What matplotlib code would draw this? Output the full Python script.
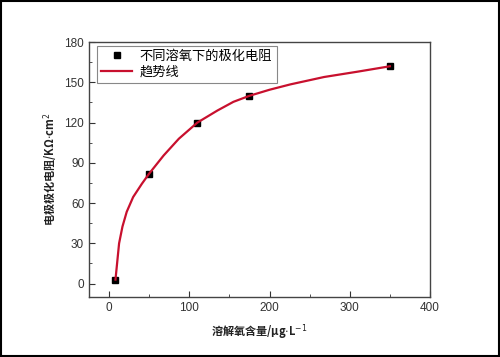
import matplotlib
matplotlib.use('Agg')
import matplotlib.pyplot as plt
from matplotlib.patches import Rectangle
from matplotlib.ticker import MultipleLocator

plt.rcParams['font.family'] = ['Liberation Sans', 'Noto Sans CJK SC', 'DejaVu Sans']

# measured points
oxygen = [8, 50, 110, 175, 350]
resistance = [3, 82, 120, 140, 162]

# trend line
trend_x = [8, 10, 12.5, 16.7, 22, 30, 41, 50, 68, 87, 110, 135, 155, 175,
           200, 226, 268, 310, 350]
trend_y = [3, 15, 30, 42.5, 53.5, 64.5, 74.5, 82, 95.5, 108, 120, 129, 135.5,
           140, 144.5, 148.5, 154, 158, 162]

x_ticks = [0, 100, 200, 300, 400]
y_ticks = [0, 30, 60, 90, 120, 150, 180]

fig = plt.figure(figsize=(5, 3.57), dpi=100)
ax = fig.add_axes([0.178, 0.168, 0.682, 0.714])

ax.plot(oxygen, resistance, 's', color='black', markersize=4.8,
        label='不同溶氧下的极化电阻', zorder=2)
ax.plot(trend_x, trend_y, '-', color='#c8102e', linewidth=1.6,
        label='趋势线', zorder=3)

ax.set_xlim(-25, 400)
ax.set_ylim(-10, 180)
ax.set_xticks(x_ticks)
ax.set_yticks(y_ticks)
ax.xaxis.set_minor_locator(MultipleLocator(50))
ax.yaxis.set_minor_locator(MultipleLocator(15))
ax.tick_params(which='both', direction='in', top=False, right=False,
               labelsize=8.5, colors='#333333')
ax.tick_params(which='major', length=4)
ax.tick_params(which='minor', length=2)
for sp in ax.spines.values():
    sp.set_color('#444444')
    sp.set_linewidth(1.0)

label_font = dict(family=['Noto Sans CJK SC', 'DejaVu Sans'], size=8,
                  weight='bold', color='#222222')
ax.set_xlabel('溶解氧含量/μg$\\cdot$L$^{-1}$', labelpad=6, **label_font)
ax.set_ylabel('电极极化电阻/KΩ$\\cdot$cm$^{2}$', labelpad=3, **label_font)

leg = ax.legend(loc='upper left', bbox_to_anchor=(0.023, 0.985),
                borderaxespad=0, fontsize=9.5,
                fancybox=False, framealpha=1, edgecolor='#888888',
                handlelength=2.3, borderpad=0.35, labelspacing=0.25,
                handletextpad=0.6)
leg.get_frame().set_linewidth(0.8)

fig.patches.append(Rectangle((0.002, 0.003), 0.996, 0.994,
                             transform=fig.transFigure, fill=False,
                             edgecolor='black', linewidth=1.5))

fig.savefig('out.png', dpi=100)
